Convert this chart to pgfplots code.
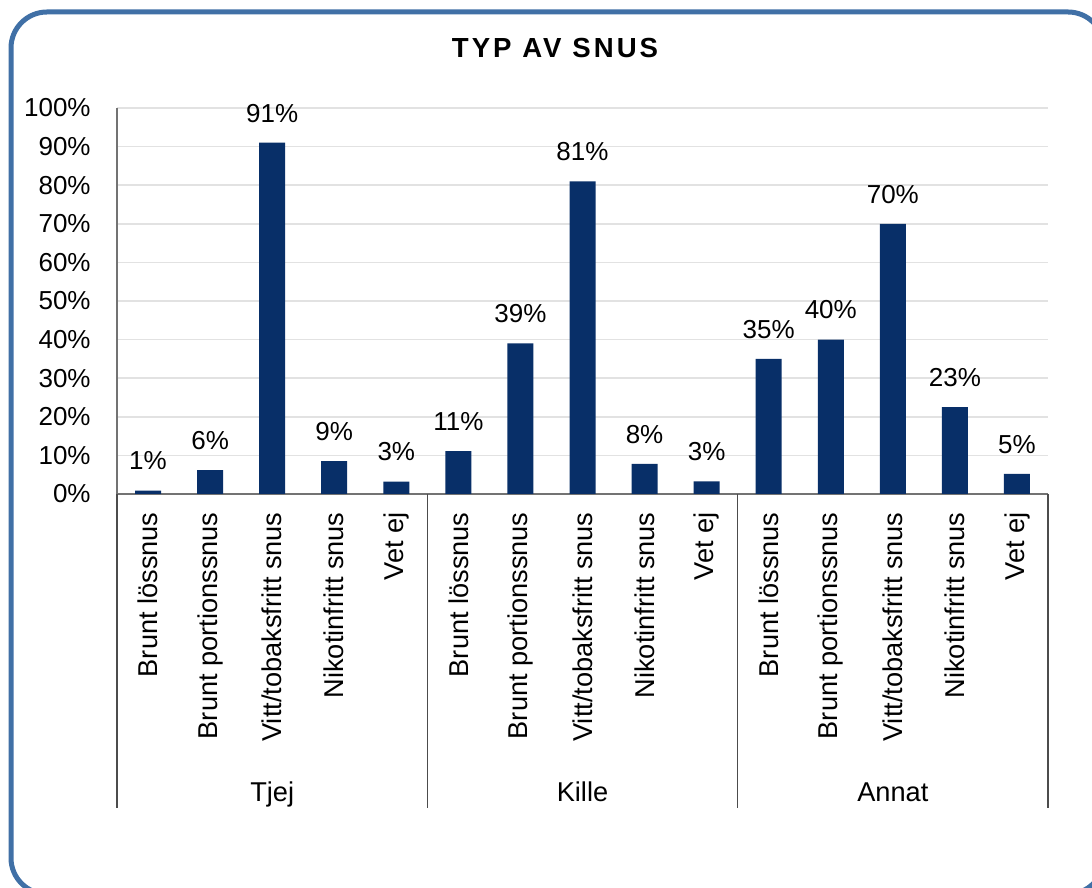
\documentclass[border=0pt]{standalone}
\usepackage{pgfplots}
\pgfplotsset{compat=1.18}
\usepackage{fontspec}
\setmainfont{Liberation Sans}
\definecolor{barblue}{RGB}{8,47,104}
\definecolor{framecol}{RGB}{64,112,166}
\definecolor{gridcol}{RGB}{226,226,226}
\newcommand\lbl{\fontsize{13}{15.6}\selectfont}
\newcommand\catlbl{\fontsize{13.6}{16}\selectfont}
\begin{document}
\begin{tikzpicture}
\useasboundingbox (0,0) rectangle (546pt,444pt);
\clip (0,0) rectangle (546pt,444pt);
\fill[white] (0,0) rectangle (546pt,444pt);
\draw[framecol, line width=2.5pt, rounded corners=18pt] (5.5pt,-3pt) rectangle (552pt,438pt);
\node[font=\fontsize{13.8}{16}\selectfont\bfseries\addfontfeatures{LetterSpace=11}] at (277.5pt,420pt) {TYP AV SNUS};
\begin{axis}[
  at={(58.5pt,197pt)}, anchor=south west,
  scale only axis, width=465.5pt, height=193pt,
  xmin=-0.5, xmax=14.5, ymin=0, ymax=100,
  ybar, bar width=13pt,
  axis x line*=bottom, axis y line*=left,
  axis line style={-, draw=black!55, line width=0.6pt},
  major tick length=0pt,
  ytick={0,10,...,100},
  yticklabels={0\%,10\%,20\%,30\%,40\%,50\%,60\%,70\%,80\%,90\%,100\%},
  yticklabel style={inner sep=0pt, anchor=east, xshift=-13pt, font=\lbl},
  xtick={0,...,14},
  xticklabels={Brunt lössnus, Brunt portionssnus, Vitt/tobaksfritt snus, Nikotinfritt snus, Vet ej,
               Brunt lössnus, Brunt portionssnus, Vitt/tobaksfritt snus, Nikotinfritt snus, Vet ej,
               Brunt lössnus, Brunt portionssnus, Vitt/tobaksfritt snus, Nikotinfritt snus, Vet ej},
  xticklabel style={yshift=-9pt, rotate=90, anchor=east, inner sep=0pt, font=\catlbl},
  ymajorgrids, grid style={gridcol, line width=0.8pt},
  clip=false,
  point meta=explicit,
  nodes near coords={\pgfmathprintnumber[fixed,precision=0,assume math mode=true]{\pgfplotspointmeta}\%},
  nodes near coords style={anchor=south, inner sep=0pt, yshift=10pt, font=\lbl, text=black},
]
\addplot[fill=barblue, draw=none] table[meta=label] {
x y label
0 0.9 1
1 6.2 6
2 91 91
3 8.5 9
4 3.2 3
5 11.1 11
6 39 39
7 81 81
8 7.8 8
9 3.3 3
10 35 35
11 40 40
12 70 70
13 22.5 23
14 5.2 5
};
\pgfplotsinvokeforeach{-0.5,4.5,9.5,14.5}{
  \draw[black!70, line width=0.6pt] (axis cs:#1,0) -- ++(0pt,-157pt);
}
\path (axis cs:2,0) ++(0pt,-153.5pt) node[anchor=base, font=\catlbl, inner sep=0pt] {Tjej};
\path (axis cs:7,0) ++(0pt,-153.5pt) node[anchor=base, font=\catlbl, inner sep=0pt] {Kille};
\path (axis cs:12,0) ++(0pt,-153.5pt) node[anchor=base, font=\catlbl, inner sep=0pt] {Annat};
\end{axis}
\end{tikzpicture}
\end{document}
